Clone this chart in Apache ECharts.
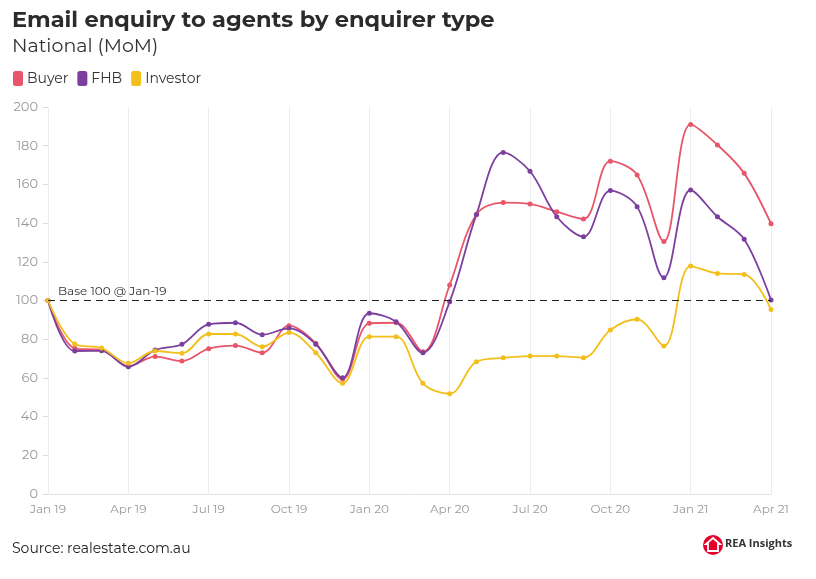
<!DOCTYPE html>
<html><head><meta charset="utf-8">
<script src="https://cdn.jsdelivr.net/npm/echarts@6/dist/echarts.min.js"></script>
<style>html,body{margin:0;padding:0;background:#fff}#c{width:816px;height:579px}</style>
</head><body><div id="c"></div>
<script>
const months = ['Jan 19','Feb 19','Mar 19','Apr 19','May 19','Jun 19','Jul 19','Aug 19','Sep 19','Oct 19','Nov 19','Dec 19',
  'Jan 20','Feb 20','Mar 20','Apr 20','May 20','Jun 20','Jul 20','Aug 20','Sep 20','Oct 20','Nov 20','Dec 20',
  'Jan 21','Feb 21','Mar 21','Apr 21'];
const buyer = [100,75.3,74.4,66.1,71,68.7,75.1,76.7,73,87,77.9,59.3,88.2,88.5,73.5,108,144.5,150.6,149.9,145.9,142.1,172,164.9,130.5,191,180.4,165.7,139.7];
const fhb = [100,73.9,74,65.8,74.4,77.4,87.7,88.5,82.3,85.6,77.4,60.1,93.4,89,73,99.4,144.5,176.5,166.8,143.3,133,156.8,148.5,111.8,157.1,143.3,131.6,100.3];
const investor = [100,77.5,75.4,67.6,73.9,72.7,82.7,82.7,76.1,83.4,73,57.2,81.3,81.3,57.2,51.8,68.4,70.4,71.3,71.3,70.4,84.8,90.3,76.5,117.8,114,113.5,95.4];
const yTicks = [0,20,40,60,80,100,120,140,160,180,200];
const baseValue = 100;
const baseLabel = 'Base 100 @ Jan-19';
const seriesNames = ['Buyer','FHB','Investor'];
const colors = ['#e8566c','#7b3f9e','#f3bf1d'];

const font = 'Montserrat, "Open Sans", Lato, sans-serif';
const chart = echarts.init(document.getElementById('c'), null, {renderer:'canvas'});
function mk(name, data, color, withBase){
  const s = {name, type:'line', data, smooth:0.35, symbol:'circle', symbolSize:5,
    lineStyle:{width:1.8,color}, itemStyle:{color}, z: 3};
  if (withBase) {
    s.markLine = {silent:true, symbol:'none',
      lineStyle:{type:[7,5],color:'#222',width:1},
      label:{show:true, position:'insideStartTop', formatter:baseLabel, color:'#333', fontSize:12, fontFamily:font, distance:[10,3]},
      data:[{yAxis:baseValue}]};
  }
  return s;
}
chart.setOption({
  animation:false,
  color: colors,
  title:[{text:'Email enquiry to agents by enquirer type', left:7, top:4,
     textStyle:{fontFamily:font, fontWeight:'bold', fontSize:22.5, color:'#2b2b2b'}},
    {text:'National (MoM)', left:7, top:32, textStyle:{fontFamily:font, fontWeight:'normal', fontSize:19, color:'#333'}},
    {text:'Source: realestate.com.au', left:7, top:537, textStyle:{fontFamily:font, fontWeight:'normal', fontSize:14, color:'#222'}}],
  legend:{left:8, top:66, itemWidth:10, itemHeight:15, itemGap:9, icon:'roundRect',
    textStyle:{fontFamily:font, fontSize:14, color:'#333', padding:[0,0,0,-1]}, data:seriesNames},
  grid:{left:48, right:45, top:107, bottom:85},
  xAxis:{type:'category', data:months, boundaryGap:false,
    axisLine:{show:true, lineStyle:{color:'#e4e4e4'}}, axisTick:{show:false},
    axisLabel:{interval:2, color:'#9a9a9a', fontFamily:font, fontSize:12, margin:9},
    splitLine:{show:true, interval:2, lineStyle:{color:'#ececec', width:1}}},
  yAxis:{type:'value', min:yTicks[0], max:yTicks[yTicks.length-1], interval:20,
    axisLine:{show:false}, axisTick:{show:true, length:5, lineStyle:{color:'#ddd'}},
    axisLabel:{color:'#9a9a9a', fontFamily:font, fontSize:13, margin:10},
    splitLine:{show:false}},
  series:[mk(seriesNames[0], buyer, colors[0], true), mk(seriesNames[1], fhb, colors[1], false), mk(seriesNames[2], investor, colors[2], false)],
  graphic:[
    {type:'circle', shape:{cx:713, cy:545, r:10}, style:{fill:'#e4002b'}},
    {type:'polygon', shape:{points:[[713,538],[720,544],[718,544],[718,551],[708,551],[708,544],[706,544]]}, style:{fill:'none', stroke:'#fff', lineWidth:1.8}},
    {type:'text', left:725, top:538, style:{text:'REA Insights', fill:'#333', font:'bold 11px "Open Sans", sans-serif'}}
  ]
});
</script></body></html>
